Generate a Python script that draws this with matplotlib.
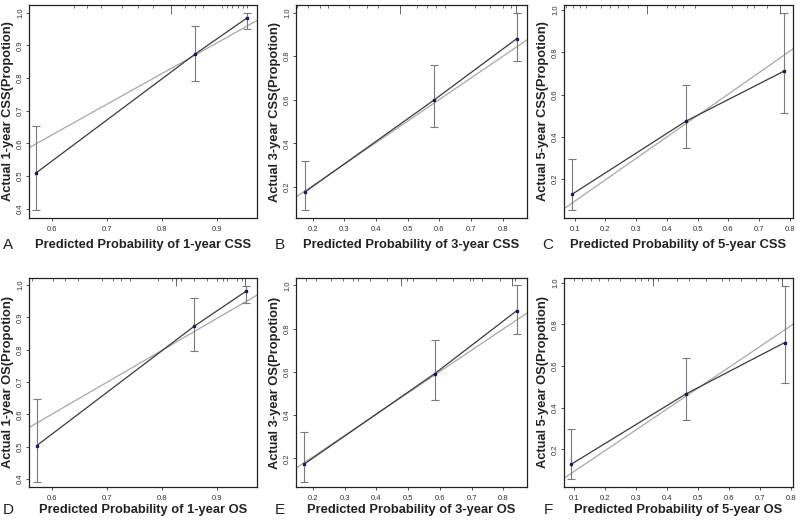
import matplotlib
matplotlib.use("Agg")
import matplotlib.pyplot as plt
import matplotlib.transforms as mtransforms

plt.rcParams['font.family'] = ['Liberation Sans', 'DejaVu Sans']

# panel letters and labels
letters = ["A", "B", "C", "D", "E", "F"]
xlabels = ["Predicted Probability of 1-year CSS", "Predicted Probability of 3-year CSS",
           "Predicted Probability of 5-year CSS", "Predicted Probability of 1-year OS",
           "Predicted Probability of 3-year OS", "Predicted Probability of 5-year OS"]
ylabels = ["Actual 1-year CSS(Propotion)", "Actual 3-year CSS(Propotion)",
           "Actual 5-year CSS(Propotion)", "Actual 1-year OS(Propotion)",
           "Actual 3-year OS(Propotion)", "Actual 5-year OS(Propotion)"]

# calibration points (predicted, observed, lower, upper)
pred_x = [[0.571, 0.860, 0.954], [0.174, 0.584, 0.845], [0.092, 0.462, 0.783],
          [0.572, 0.859, 0.953], [0.172, 0.584, 0.842], [0.092, 0.461, 0.778]]
obs_y = [[0.510, 0.873, 0.983], [0.176, 0.600, 0.881], [0.129, 0.474, 0.712],
         [0.503, 0.873, 0.981], [0.172, 0.592, 0.883], [0.129, 0.466, 0.712]]
ci_lo = [[0.396, 0.792, 0.949], [0.096, 0.476, 0.776], [0.055, 0.345, 0.513],
         [0.390, 0.797, 0.946], [0.092, 0.468, 0.775], [0.055, 0.340, 0.518]]
ci_hi = [[0.653, 0.960, 1.000], [0.321, 0.758, 1.000], [0.295, 0.647, 0.987],
         [0.646, 0.959, 0.998], [0.322, 0.749, 1.000], [0.299, 0.636, 0.984]]

# grey reference line end points
ref_x = [[0.558, 0.973], [0.147, 0.877], [0.065, 0.811],
         [0.558, 0.973], [0.147, 0.874], [0.068, 0.805]]
ref_y = [[0.587, 0.976], [0.154, 0.875], [0.060, 0.816],
         [0.559, 0.969], [0.154, 0.872], [0.061, 0.800]]

# rug of predicted values along the top
rug = [
    [0.639, 0.663, 0.689, 0.727, 0.757, 0.784, 0.816, 0.842, 0.860, 0.875,
     0.909, 0.918, 0.927, 0.939, 0.948, 0.954],
    [0.149, 0.186, 0.223, 0.249, 0.315, 0.370, 0.407, 0.475, 0.528, 0.560,
     0.591, 0.617, 0.712, 0.759, 0.801, 0.828, 0.841],
    [0.073, 0.095, 0.116, 0.138, 0.187, 0.214, 0.242, 0.274, 0.336, 0.400,
     0.427, 0.454, 0.492, 0.612, 0.661, 0.683, 0.726, 0.770],
    [0.563, 0.602, 0.623, 0.647, 0.690, 0.710, 0.726, 0.741, 0.792, 0.819,
     0.825, 0.834, 0.858, 0.882, 0.900, 0.912, 0.918, 0.936, 0.945, 0.951],
    [0.148, 0.179, 0.211, 0.258, 0.295, 0.326, 0.342, 0.379, 0.432, 0.479,
     0.495, 0.515, 0.589, 0.642, 0.694, 0.705, 0.731, 0.789, 0.826, 0.836],
    [0.068, 0.100, 0.127, 0.154, 0.182, 0.209, 0.247, 0.296, 0.317, 0.339,
     0.355, 0.372, 0.431, 0.469, 0.524, 0.578, 0.600, 0.638, 0.687, 0.719,
     0.757, 0.768],
]
rug_long = [[0.816], [0.475, 0.841], [0.336, 0.770], [0.825, 0.951], [0.479, 0.826], [0.355, 0.768]]

xticks = [[0.6, 0.7, 0.8, 0.9], [0.2, 0.3, 0.4, 0.5, 0.6, 0.7, 0.8],
          [0.1, 0.2, 0.3, 0.4, 0.5, 0.6, 0.7, 0.8],
          [0.6, 0.7, 0.8, 0.9], [0.2, 0.3, 0.4, 0.5, 0.6, 0.7, 0.8],
          [0.1, 0.2, 0.3, 0.4, 0.5, 0.6, 0.7, 0.8]]
yticks = [[0.4, 0.5, 0.6, 0.7, 0.8, 0.9, 1.0], [0.2, 0.4, 0.6, 0.8, 1.0],
          [0.2, 0.4, 0.6, 0.8, 1.0],
          [0.4, 0.5, 0.6, 0.7, 0.8, 0.9, 1.0], [0.2, 0.4, 0.6, 0.8, 1.0],
          [0.2, 0.4, 0.6, 0.8, 1.0]]
xlims = [(0.558, 0.973), (0.147, 0.877), (0.065, 0.811),
         (0.558, 0.973), (0.147, 0.874), (0.068, 0.805)]
ylims = [(0.372, 1.0235), (0.058, 1.035), (0.016, 1.024),
         (0.375, 1.022), (0.067, 1.034), (0.019, 1.022)]

W, H = 800, 527
fig = plt.figure(figsize=(8, 5.27), dpi=100)

# axes boxes in pixels: left, top, right, bottom
cols = [(29, 257), (296, 527), (564, 793)]
rows = [(5, 218), (278, 487)]
letter_x = [8, 280, 548]
ylab_x = [8, 275, 543]
xlab_y = [245, 510]

for i in range(6):
    r, c = divmod(i, 3)
    l, rr = cols[c]
    t, b = rows[r]
    ax = fig.add_axes([l / W, 1 - b / H, (rr - l) / W, (b - t) / H])

    ax.plot(ref_x[i], ref_y[i], color="#a8a8a8", lw=0.9, zorder=1)
    ax.plot(pred_x[i], obs_y[i], color="#3a3a3a", lw=0.9, zorder=2)
    yerr = [[o - lo for o, lo in zip(obs_y[i], ci_lo[i])],
            [hi - o for o, hi in zip(obs_y[i], ci_hi[i])]]
    ax.errorbar(pred_x[i], obs_y[i], yerr=yerr, fmt="none", ecolor="#7a7a7a",
                elinewidth=0.8, capsize=2.6, capthick=0.8, zorder=3)
    ax.plot(pred_x[i], obs_y[i], "s", color="#1c1c5a", ms=1.8, zorder=4)

    trans = mtransforms.blended_transform_factory(ax.transData, ax.transAxes)
    ax.vlines(rug[i], 0.986, 1.0, transform=trans, color="#555555", lw=0.6)
    ax.vlines(rug_long[i], 0.96, 1.0, transform=trans, color="#555555", lw=0.6)

    ax.set_xlim(*xlims[i])
    ax.set_ylim(*ylims[i])
    ax.set_xticks(xticks[i])
    ax.set_yticks(yticks[i])
    ax.set_xticklabels(["%.1f" % v for v in xticks[i]], fontsize=5.5, color="#333333")
    ax.set_yticklabels(["%.1f" % v for v in yticks[i]], fontsize=5.5, color="#333333",
                       rotation=90, va="center")
    ax.tick_params(axis="x", length=2.5, width=0.6, pad=3, colors="#333333")
    ax.tick_params(axis="y", length=2, width=0.6, pad=1.5, colors="#333333")
    for s in ax.spines.values():
        s.set_linewidth(0.9)
        s.set_color("#222222")

    cx = (l + rr) / 2
    fig.text(cx / W, 1 - xlab_y[r] / H, xlabels[i], ha="center", va="center",
             fontsize=9.3, fontweight="bold", color="#222222")
    fig.text(letter_x[c] / W, 1 - xlab_y[r] / H, letters[i], ha="center", va="center",
             fontsize=11, color="#222222")
    fig.text(ylab_x[c] / W, 1 - ((t + b) / 2) / H, ylabels[i], ha="center", va="center",
             rotation=90, fontsize=9.3, fontweight="bold", color="#222222")

fig.savefig("out.png", dpi=100)
